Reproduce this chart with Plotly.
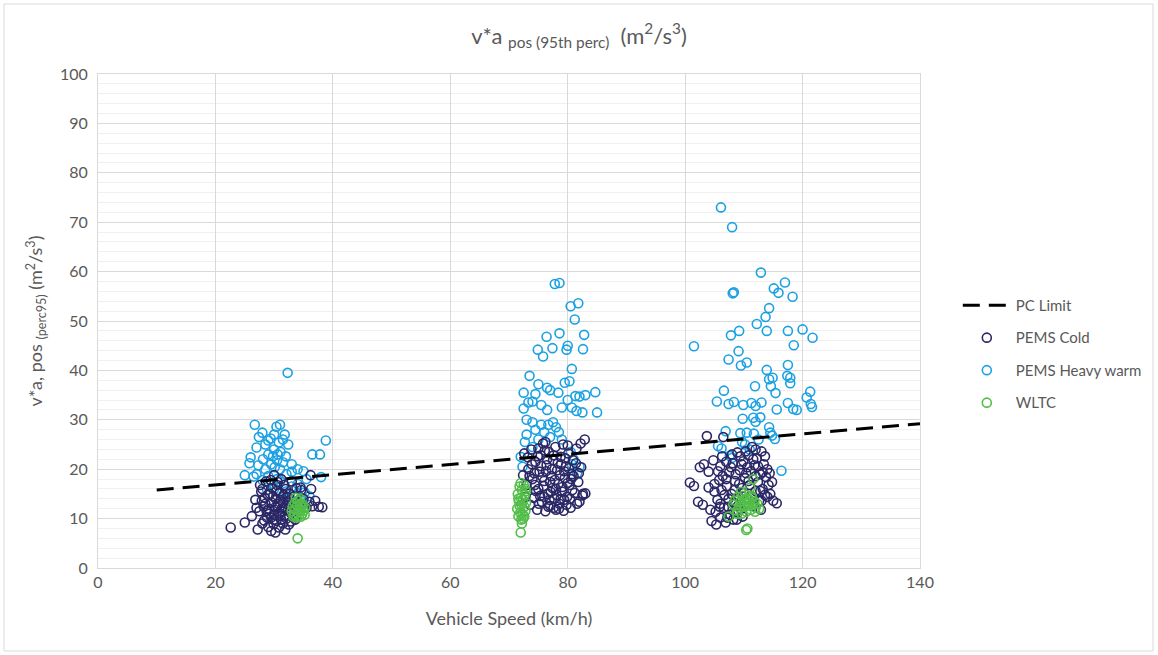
import plotly.graph_objects as go

# ---- PC limit line (speed km/h, v*a) ----
pc_speed = [10, 140]
pc_va = [15.8, 29.2]

# ---- PEMS Cold ----
cold_speed = [
    22.6, 25.0, 26.2, 26.8, 27.2, 27.5, 27.8, 27.6, 28.0, 28.2, 28.4, 28.6, 28.8, 29.0, 29.1, 29.3, 29.5, 29.6, 29.7, 29.9,
    30.0, 30.1, 30.2, 30.3, 30.4, 30.5, 30.6, 30.8, 30.9, 31.0, 31.1, 31.2, 31.4, 31.5, 31.6, 31.8, 32.0, 32.1, 32.3, 32.5,
    32.6, 32.8, 33.0, 33.2, 33.4, 33.6, 33.8, 34.2, 34.6, 35.0, 35.5, 36.0, 36.3, 36.5, 37.0, 37.6, 38.2, 36.2, 34.5, 27.0,
    28.5, 29.2, 30.7, 31.3, 32.4, 29.8, 31.7, 28.0, 32.9, 30.0, 31.9, 29.4, 33.3, 28.3, 28.9, 29.5, 30.2, 30.9, 31.5, 32.2,
    32.7, 28.7, 30.4, 31.2, 29.9, 31.8, 30.6, 33.5, 27.9,
    72.6, 73.0, 73.3, 73.6, 73.8, 74.0, 74.2, 74.5, 74.8, 75.0, 75.2, 75.4, 75.6, 75.8, 76.0, 76.2, 76.4, 76.6, 76.8, 77.0,
    77.2, 77.4, 77.5, 77.7, 77.9, 78.0, 78.2, 78.4, 78.6, 78.8, 79.0, 79.2, 79.3, 79.5, 79.7, 79.9, 80.1, 80.3, 80.5, 80.7,
    80.9, 81.2, 81.5, 81.8, 82.0, 82.3, 82.6, 82.9, 82.5, 83.0, 82.2, 76.2, 78.5, 77.3, 79.1, 75.7, 80.4, 76.9, 74.6, 78.9,
    81.0, 73.2, 72.4, 77.8, 79.8, 75.3, 76.5,
    74.3, 74.9, 75.1, 75.9, 76.3, 76.7, 77.1, 77.6, 78.1, 78.3, 78.7, 79.4, 79.6, 80.0, 80.2, 80.8, 81.4, 81.6, 73.9, 74.4,
    75.5, 76.1, 77.0, 78.0, 78.8, 79.4, 80.6, 81.9, 76.0, 77.6, 73.5, 72.8, 80.0, 75.0,
    100.8, 101.5, 102.2, 102.5, 103.2, 103.7, 104.0, 104.3, 104.8, 105.0, 105.3, 105.5, 105.8, 106.0, 106.3, 106.5, 106.7,
    106.9, 107.1, 107.3, 107.5, 107.7, 107.9, 108.1, 108.3, 108.5, 108.7, 108.9, 109.1, 109.3, 109.5, 109.7, 109.9, 110.2,
    110.5, 110.8, 111.0, 111.2, 111.4, 111.6, 111.8, 112.0, 112.2, 112.4, 112.6, 112.8, 113.0, 113.2, 113.4, 113.6, 113.8,
    114.0, 114.2, 114.5, 114.8, 115.0, 115.6, 104.5, 105.9, 107.0, 109.8, 108.2, 106.4, 112.9, 110.6, 103.0, 104.0,
    105.2, 105.6, 106.2, 106.6, 107.0, 107.4, 107.8, 108.4, 108.6, 109.0, 109.2, 109.6, 110.0, 110.4, 110.8, 111.2, 111.6,
    112.0, 112.4, 112.8, 113.2, 113.6, 114.0, 114.4, 106.0, 105.0, 108.0, 113.0, 107.2, 109.4, 110.3, 112.0, 106.0, 108.8,
]
cold_va = [
    8.2, 9.2, 10.5, 13.8, 7.8, 11.5, 15.5, 16.8, 9.0, 12.5, 14.2, 17.5, 10.2, 8.3, 12.0, 15.0, 7.5, 13.2, 16.2, 10.8,
    18.8, 11.8, 7.2, 14.0, 9.5, 16.8, 12.6, 8.2, 15.2, 10.6, 13.8, 18.0, 11.4, 9.0, 14.8, 12.2, 16.0, 10.0, 13.5, 8.8,
    15.0, 11.2, 17.5, 12.8, 14.5, 9.8, 16.2, 13.0, 15.8, 14.0, 12.2, 13.4, 16.0, 12.5, 13.6, 12.4, 12.3, 18.8, 16.3, 12.2,
    13.0, 11.0, 13.0, 12.0, 11.8, 14.5, 16.8, 16.0, 9.4, 9.8, 7.8, 17.8, 10.5, 9.6, 14.8, 10.2, 12.3, 11.1, 13.4, 14.4,
    12.9, 11.6, 15.6, 9.8, 8.9, 10.6, 17.4, 11.6, 13.6,
    23.2, 16.8, 20.0, 12.8, 24.0, 18.0, 14.2, 21.5, 11.8, 16.0, 19.5, 22.8, 13.4, 25.2, 17.6, 11.5, 20.8, 15.0, 23.5, 12.6,
    18.6, 16.2, 21.8, 14.0, 24.5, 11.8, 19.8, 17.0, 13.0, 22.5, 15.5, 25.0, 11.6, 18.2, 20.6, 14.4, 23.2, 16.8, 12.2, 19.0,
    21.8, 15.2, 24.2, 17.4, 13.4, 20.4, 15.0, 26.0, 14.7, 15.1, 25.2, 25.5, 12.0, 20.0, 16.4, 18.4, 14.0, 13.8, 15.6, 21.0,
    18.6, 22.4, 18.8, 17.8, 12.8, 14.6, 22.0,
    19.2, 22.6, 13.0, 16.6, 19.6, 12.4, 15.4, 22.8, 14.8, 21.2, 18.8, 13.8, 22.2, 17.2, 20.2, 15.8, 21.2, 13.0, 21.0, 16.8,
    20.6, 23.8, 17.4, 16.0, 14.0, 19.6, 18.0, 19.2, 14.4, 12.2, 18.6, 14.4, 24.8, 24.2,
    17.3, 16.6, 13.4, 20.4, 21.0, 26.7, 19.5, 11.8, 21.8, 15.5, 8.8, 13.8, 17.8, 10.2, 22.6, 26.5, 14.8,
    9.2, 16.6, 12.4, 19.4, 10.8, 15.0, 21.2, 13.2, 17.6, 11.4, 23.4, 14.4, 19.8, 12.0, 16.2, 21.6, 18.2,
    14.0, 22.8, 16.8, 19.6, 24.5, 12.6, 20.8, 15.6, 22.2, 17.4, 13.6, 19.0, 23.6, 16.0, 21.0, 14.8, 18.4,
    20.0, 16.8, 15.0, 17.4, 13.6, 13.1, 9.5, 12.4, 21.5, 10.4, 9.8, 18.6, 11.8, 20.4, 12.8, 16.3,
    11.4, 19.6, 15.8, 12.2, 18.0, 14.0, 20.4, 15.8, 19.0, 12.6, 17.0, 21.0, 15.2, 19.2, 17.6, 14.6, 22.0,
    18.6, 20.6, 15.6, 19.4, 22.6, 14.4, 19.2, 20.6, 17.0, 23.0, 13.6, 10.2, 22.6, 23.6, 24.0, 13.0, 9.8,
]

# ---- PEMS Heavy warm ----
warm_speed = [
    32.3, 26.7, 31.0, 30.4, 28.0, 27.4, 30.0, 29.4, 31.5, 29.0, 30.8, 28.5, 32.4, 27.0, 30.0, 31.1, 29.0, 32.0, 26.0, 28.1,
    30.5, 31.5, 33.0, 29.5, 27.3, 30.1, 28.5, 31.0, 33.0, 32.1, 26.5, 29.0, 30.5, 34.0, 35.0, 36.5, 37.8, 38.8, 38.0, 35.5,
    34.0, 31.0, 29.6, 28.0, 27.0, 25.0, 25.8, 30.0, 33.0, 32.0, 34.0, 35.2, 36.0, 28.8, 31.5, 33.8, 34.8, 29.8, 31.8, 30.6,
    77.8, 78.6, 80.5, 81.8, 81.2, 78.6, 82.8, 76.4, 77.4, 80.0, 79.8, 82.6, 74.9, 75.8, 80.7, 73.5, 75.0, 79.5, 80.3, 76.5,
    77.0, 78.4, 74.5, 72.5, 84.7, 80.0, 81.3, 82.0, 83.0, 75.5, 74.0, 73.3, 79.0, 72.5, 76.5, 82.5, 85.0, 80.7, 81.5, 73.0,
    74.0, 75.5, 76.7, 77.5, 78.0, 74.5, 76.0, 73.0, 75.0, 77.0, 78.5, 72.7, 74.0, 80.5, 81.0, 80.7, 82.0, 72.0, 72.3, 79.0,
    81.6,
    106.1, 108.0, 112.9, 117.0, 115.1, 115.9, 118.3, 108.1, 108.3, 114.3, 113.7, 112.2, 107.8, 109.2, 113.9, 117.5, 120.0,
    121.7, 118.5, 101.5, 109.1, 107.4, 109.5, 110.5, 117.5, 113.9, 114.3, 114.9, 117.4, 117.9, 117.9, 114.6, 111.9, 115.4,
    106.6, 121.3, 120.7, 105.4, 107.4, 108.3, 109.9, 111.3, 112.0, 113.0, 115.6, 117.5, 118.4, 119.0, 121.4, 121.6, 109.8,
    111.6, 112.0, 112.8, 114.3, 114.5, 114.8, 115.3, 106.9, 109.4, 110.5, 111.7, 109.7, 105.6, 106.2, 107.6, 108.0, 116.4,
    110.2, 111.0, 112.5,
]
warm_va = [
    39.5, 29.0, 29.0, 28.6, 27.4, 26.5, 27.0, 26.2, 26.0, 25.8, 25.4, 25.0, 25.0, 24.4, 24.0, 23.5, 23.0, 22.6, 22.4, 22.0,
    21.8, 21.4, 21.0, 21.0, 20.8, 20.4, 20.0, 20.0, 19.5, 19.0, 18.5, 18.6, 18.0, 20.0, 19.6, 23.0, 23.0, 25.8, 18.4, 18.0,
    17.0, 17.5, 17.0, 17.8, 19.0, 18.8, 21.2, 16.0, 16.5, 15.5, 15.0, 15.3, 14.5, 15.8, 14.4, 13.5, 13.0, 22.6, 27.0, 23.0,
    57.5, 57.7, 53.0, 53.6, 50.3, 47.5, 47.2, 46.8, 44.5, 45.0, 44.2, 44.3, 44.2, 42.8, 40.3, 38.9, 37.2, 37.5, 37.8, 36.5,
    36.0, 35.5, 35.2, 35.5, 35.6, 34.0, 34.8, 34.7, 35.0, 33.0, 33.7, 33.5, 32.5, 32.3, 32.0, 31.5, 31.5, 32.5, 31.8, 30.0,
    29.5, 29.0, 29.0, 29.5, 28.5, 28.0, 27.5, 27.0, 26.0, 26.5, 27.5, 25.5, 24.5, 23.5, 22.0, 21.0, 20.5, 22.5, 20.5, 26.0,
    19.2,
    73.0, 69.0, 59.8, 57.8, 56.6, 55.7, 54.9, 55.6, 55.8, 52.6, 50.8, 49.4, 47.1, 48.0, 48.0, 48.0, 48.3,
    46.6, 45.1, 44.9, 43.9, 42.2, 41.0, 41.6, 41.1, 40.1, 38.2, 38.5, 38.9, 38.5, 37.4, 36.8, 36.8, 35.4,
    35.9, 35.7, 34.5, 33.7, 33.2, 33.6, 33.0, 33.4, 32.8, 33.5, 32.1, 33.4, 32.2, 32.0, 33.2, 32.6, 30.2,
    30.4, 29.6, 30.5, 28.5, 27.4, 26.8, 26.1, 27.7, 27.3, 27.4, 27.2, 25.5, 24.7, 24.2, 22.7, 22.3, 19.7,
    25.0, 24.0, 26.0,
]

# ---- WLTC ----
wltc_speed = [
    33.0, 33.2, 33.4, 33.5, 33.6, 33.8, 33.9, 34.0, 34.1, 34.2, 34.3, 34.4, 34.5, 34.6, 34.7, 34.8, 34.9, 35.0, 35.2, 35.3,
    33.7, 34.4, 33.3, 34.0,
    71.4, 71.5, 71.6, 71.7, 71.8, 71.9, 72.0, 72.1, 72.1, 72.2, 72.3, 72.4, 72.5, 72.6, 72.6, 72.7, 72.8, 72.9, 72.9, 72.0,
    71.6, 72.4, 71.8, 72.2, 72.0, 72.8,
    108.2, 108.5, 108.8, 109.0, 109.2, 109.4, 109.6, 109.8, 110.0, 110.2, 110.4, 110.6, 110.8, 111.0, 111.2, 111.4, 111.6,
    111.8, 112.0, 112.3, 112.6, 107.4, 111.6, 111.1, 110.4, 110.6, 111.9, 109.5, 110.1, 110.9, 108.9, 111.3,
]
wltc_va = [
    11.5, 12.5, 10.8, 13.2, 11.8, 10.2, 12.6, 11.2, 13.6, 10.6, 12.0, 11.6, 13.0, 10.4, 12.4, 11.0, 12.8, 11.6, 10.8, 12.2,
    14.2, 14.0, 10.4, 6.0,
    12.0, 15.0, 10.5, 13.5, 16.5, 11.2, 14.2, 9.8, 12.8, 15.8, 11.0, 13.8, 16.8, 10.4, 12.4, 14.8, 11.6, 13.2, 15.6, 17.2,
    14.0, 10.0, 12.6, 9.0, 7.2, 16.0,
    12.8, 13.6, 11.6, 14.4, 12.2, 13.4, 11.0, 14.6, 12.4, 13.8, 11.4, 14.0, 12.6, 13.2, 11.8, 14.2, 12.8,
    13.4, 12.2, 13.0, 12.0, 10.4, 18.0, 16.3, 7.7, 8.0, 11.4, 15.4, 12.6, 13.8, 11.0, 14.6,
]

COLD = "#2B2766"
WARM = "#1BA1E2"
GREEN = "#52BE48"
TXT = "#595959"
FONT = "Lato"

fig = go.Figure()

def marker(c):
    return dict(symbol="circle-open", size=9, color=c, line=dict(width=1.6, color=c))

fig.add_trace(go.Scatter(x=warm_speed, y=warm_va, mode="markers", name="PEMS Heavy warm",
                         marker=marker(WARM), legendrank=3, legendgroup="c"))
fig.add_trace(go.Scatter(x=cold_speed, y=cold_va, mode="markers", name="PEMS Cold",
                         marker=marker(COLD), legendrank=2, legendgroup="b"))
fig.add_trace(go.Scatter(x=wltc_speed, y=wltc_va, mode="markers", name="WLTC",
                         marker=marker(GREEN), legendrank=4, legendgroup="d"))
fig.add_trace(go.Scatter(x=pc_speed, y=pc_va, mode="lines", name="PC Limit",
                         line=dict(color="black", width=3, dash="17px,9px"), legendrank=1, legendgroup="a"))

fig.update_layout(
    width=1158, height=655,
    margin=dict(l=98, r=238, t=74, b=87, autoexpand=False),
    paper_bgcolor="white", plot_bgcolor="white",
    font=dict(family=FONT, color=TXT, size=15),
    title=dict(text="v*a <sub>pos (95th perc)</sub>  (m<sup>2</sup>/s<sup>3</sup>)",
               x=0.5, xref="container", xanchor="center", y=0.945, yref="container", yanchor="middle",
               font=dict(family=FONT, size=22, color=TXT)),
    legend=dict(x=1.046, y=0.565, xanchor="left", yanchor="top", tracegroupgap=10, itemwidth=48,
                font=dict(family=FONT, size=15, color=TXT), bgcolor="rgba(0,0,0,0)"),
    showlegend=True,
)

fig.update_xaxes(range=[0, 140], dtick=20, tick0=0, showgrid=True, gridcolor="#D9D9D9", gridwidth=1,
                 zeroline=False, showline=True, linecolor="#D9D9D9", mirror=True,
                 ticks="", tickfont=dict(family=FONT, size=16, color=TXT),
                 title=dict(text="Vehicle Speed (km/h)", font=dict(family=FONT, size=18, color=TXT), standoff=22))
fig.update_yaxes(range=[0, 100], dtick=10, tick0=0, showgrid=True, gridcolor="#D9D9D9", gridwidth=1,
                 minor=dict(dtick=2, showgrid=True, gridcolor="#F0F0F0", gridwidth=1),
                 zeroline=False, showline=True, linecolor="#D9D9D9", mirror=True,
                 ticks="", tickfont=dict(family=FONT, size=16, color=TXT), ticklabelstandoff=6,
                 title=dict(text="v*a, pos <sub>(perc95)</sub> (m<sup>2</sup>/s<sup>3</sup>)",
                            font=dict(family=FONT, size=18, color=TXT), standoff=12))

fig.add_shape(type="rect", xref="paper", yref="paper",
              x0=(4 - 98) / 822, x1=(1153 - 98) / 822, y0=(568 - 651) / 494, y1=(568 - 4) / 494,
              line=dict(color="#D9D9D9", width=1), fillcolor="rgba(0,0,0,0)", layer="below")

fig.write_html("out.html")
